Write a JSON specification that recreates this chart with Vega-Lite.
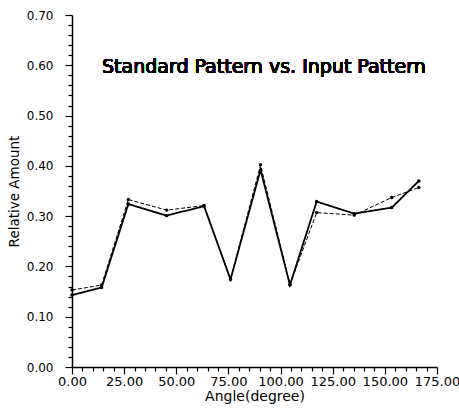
{
  "$schema": "https://vega.github.io/schema/vega-lite/v6.json",
  "autosize": "none",
  "width": 365,
  "height": 352,
  "padding": {"left": 72, "top": 15, "right": 22, "bottom": 41},
  "background": "white",
  "config": {
    "view": {"stroke": null},
    "font": "DejaVu Sans",
    "axis": {
      "domainColor": "black",
      "domainWidth": 1.5,
      "tickColor": "black",
      "tickWidth": 1.2,
      "labelColor": "black",
      "titleColor": "black",
      "labelFont": "DejaVu Sans",
      "titleFont": "DejaVu Sans",
      "titleFontWeight": "normal",
      "grid": false,
      "labelOverlap": false,
      "labelBound": false,
      "labelFlush": false,
      "tickCount": 100
    }
  },
  "data": {
    "values": [
      {"angle": 0, "amount": 0.143, "series": "Input"},
      {"angle": 14.2, "amount": 0.158, "series": "Input"},
      {"angle": 27, "amount": 0.324, "series": "Input"},
      {"angle": 45.4, "amount": 0.301, "series": "Input"},
      {"angle": 63.3, "amount": 0.320, "series": "Input"},
      {"angle": 76, "amount": 0.174, "series": "Input"},
      {"angle": 90.4, "amount": 0.392, "series": "Input"},
      {"angle": 104.5, "amount": 0.163, "series": "Input"},
      {"angle": 117.3, "amount": 0.329, "series": "Input"},
      {"angle": 135.3, "amount": 0.305, "series": "Input"},
      {"angle": 153.3, "amount": 0.317, "series": "Input"},
      {"angle": 166.3, "amount": 0.370, "series": "Input"},
      {"angle": 0, "amount": 0.153, "series": "Standard"},
      {"angle": 14.2, "amount": 0.163, "series": "Standard"},
      {"angle": 27, "amount": 0.333, "series": "Standard"},
      {"angle": 45.4, "amount": 0.312, "series": "Standard"},
      {"angle": 63.3, "amount": 0.321, "series": "Standard"},
      {"angle": 76, "amount": 0.175, "series": "Standard"},
      {"angle": 90.4, "amount": 0.402, "series": "Standard"},
      {"angle": 104.5, "amount": 0.164, "series": "Standard"},
      {"angle": 117.3, "amount": 0.307, "series": "Standard"},
      {"angle": 135.3, "amount": 0.302, "series": "Standard"},
      {"angle": 153.3, "amount": 0.337, "series": "Standard"},
      {"angle": 166.3, "amount": 0.357, "series": "Standard"}
    ]
  },
  "layer": [
    {
      "mark": {"type": "line", "color": "black", "point": {"filled": true, "size": 12, "color": "black"}},
      "encoding": {
        "x": {
          "field": "angle", "type": "quantitative",
          "scale": {"domain": [0, 175], "nice": false, "zero": true},
          "axis": {
            "title": "Angle(degree)",
            "values": [0,5,10,15,20,25,30,35,40,45,50,55,60,65,70,75,80,85,90,95,100,105,110,115,120,125,130,135,140,145,150,155,160,165,170,175],
            "tickCount": 100,
            "labelExpr": "datum.value % 25 === 0 ? format(datum.value, '.2f') : ''",
            "tickSize": {"condition": {"test": "datum.value % 25 === 0", "value": 7}, "value": 4},
            "labelFontSize": 13,
            "titleFontSize": 14,
            "labelPadding": 1,
            "titlePadding": 1
          }
        },
        "y": {
          "field": "amount", "type": "quantitative",
          "scale": {"domain": [0, 0.7], "nice": false},
          "axis": {
            "title": "Relative Amount",
            "values": [0,0.02,0.04,0.06,0.08,0.1,0.12,0.14,0.16,0.18,0.2,0.22,0.24,0.26,0.28,0.3,0.32,0.34,0.36,0.38,0.4,0.42,0.44,0.46,0.48,0.5,0.52,0.54,0.56,0.58,0.6,0.62,0.64,0.66,0.68,0.7],
            "tickCount": 100,
            "labelExpr": "round(datum.value * 100) % 10 === 0 ? format(datum.value, '.2f') : ''",
            "tickSize": {"condition": {"test": "round(datum.value * 100) % 10 === 0", "value": 7}, "value": 4},
            "labelFontSize": 12,
            "titleFontSize": 13.5,
            "labelPadding": 12,
            "titlePadding": 5
          }
        },
        "strokeDash": {
          "field": "series", "type": "nominal",
          "scale": {"domain": ["Input", "Standard"], "range": [[1, 0], [4, 2]]},
          "legend": null
        },
        "strokeWidth": {
          "field": "series", "type": "nominal",
          "scale": {"domain": ["Input", "Standard"], "range": [1.8, 1]},
          "legend": null
        }
      }
    },
    {
      "mark": {"type": "text", "text": "Standard Pattern vs. Input Pattern", "fontSize": 19, "font": "DejaVu Sans", "color": "black", "baseline": "middle", "align": "center"},
      "encoding": {
        "x": {"datum": 92, "type": "quantitative"},
        "y": {"datum": 0.596, "type": "quantitative"}
      }
    }
  ]
}
